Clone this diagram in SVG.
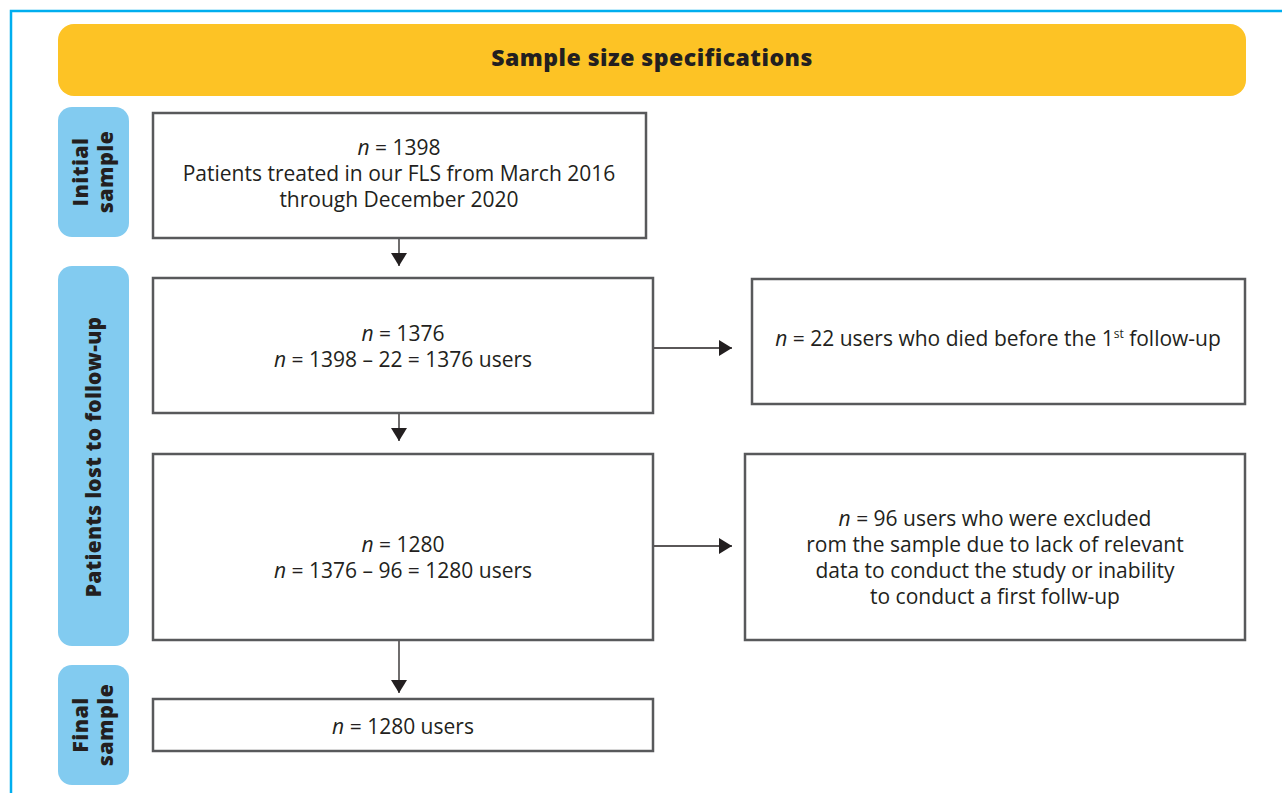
<svg xmlns="http://www.w3.org/2000/svg" width="1282" height="793" viewBox="0 0 1282 793">
<defs>
<style>
.frame{fill:none;stroke:#00AEEF;stroke-width:2.5}
.banner{fill:#FDC325}
.side{fill:#82CBF0}
.box{fill:#fff;stroke:#58595B;stroke-width:2.5}
.t{font-family:"Open Sans","Liberation Sans",sans-serif;font-size:21px;fill:#231F20;text-anchor:middle}
.b{font-family:"Open Sans","DejaVu Sans",sans-serif;font-weight:800;fill:#231F20;text-anchor:middle}
.conn{stroke:#231F20;stroke-width:1.3;fill:none}
</style>
<marker id="ah" viewBox="0 0 10 10" refX="10" refY="5" markerWidth="13" markerHeight="16" markerUnits="userSpaceOnUse" orient="auto" preserveAspectRatio="none">
<path d="M0,0 L10,5 L0,10 z" fill="#231F20"/>
</marker>
</defs>
<rect width="1282" height="793" fill="#fff"/>
<path class="frame" d="M11,793 V11 H1282"/>

<g id="header">
<rect class="banner" x="58" y="24" width="1188" height="72" rx="16"/>
<text class="b" x="652" y="66" font-size="23" letter-spacing="0.5">Sample size specifications</text>
</g>

<g id="stage-initial">
<rect class="side" x="58" y="107" width="71" height="130" rx="14"/>
<text class="b" font-size="21.5" letter-spacing="0.4" transform="translate(88,172) rotate(-90)">Initial</text>
<text class="b" font-size="21.5" letter-spacing="0.4" transform="translate(113,172) rotate(-90)">sample</text>
</g>
<g id="stage-lost">
<rect class="side" x="58" y="266" width="71" height="380" rx="14"/>
<text class="b" font-size="21" letter-spacing="0.3" transform="translate(101,457) rotate(-90)">Patients lost to follow-up</text>
</g>
<g id="stage-final">
<rect class="side" x="58" y="665" width="71" height="120" rx="14"/>
<text class="b" font-size="21.5" letter-spacing="0.4" transform="translate(88,725) rotate(-90)">Final</text>
<text class="b" font-size="21.5" letter-spacing="0.4" transform="translate(113,725) rotate(-90)">sample</text>
</g>

<g id="connectors">
<line class="conn" x1="399" y1="238" x2="399" y2="266" marker-end="url(#ah)"/>
<line class="conn" x1="399" y1="413" x2="399" y2="441" marker-end="url(#ah)"/>
<line class="conn" x1="399" y1="640" x2="399" y2="693" marker-end="url(#ah)"/>
<line class="conn" x1="653" y1="348" x2="732" y2="348" marker-end="url(#ah)"/>
<line class="conn" x1="653" y1="546" x2="732" y2="546" marker-end="url(#ah)"/>
</g>

<g id="n1398">
<rect class="box" x="153" y="113" width="493" height="125"/>
<text class="t" x="399" y="155"><tspan font-style="italic">n</tspan> = 1398</text>
<text class="t" x="399" y="181">Patients treated in our FLS from March 2016</text>
<text class="t" x="399" y="207">through December 2020</text>
</g>
<g id="n1376">
<rect class="box" x="153" y="278" width="500" height="135"/>
<text class="t" x="403" y="341"><tspan font-style="italic">n</tspan> = 1376</text>
<text class="t" x="403" y="367"><tspan font-style="italic">n</tspan> = 1398 – 22 = 1376 users</text>
</g>
<g id="died">
<rect class="box" x="752" y="279" width="493" height="125"/>
<text class="t" x="998" y="346"><tspan font-style="italic">n</tspan> = 22 users who died before the 1<tspan font-size="12" dy="-8">st</tspan><tspan dy="8"> follow-up</tspan></text>
</g>
<g id="n1280">
<rect class="box" x="153" y="454" width="500" height="186"/>
<text class="t" x="403" y="552"><tspan font-style="italic">n</tspan> = 1280</text>
<text class="t" x="403" y="578"><tspan font-style="italic">n</tspan> = 1376 – 96 = 1280 users</text>
</g>
<g id="excluded">
<rect class="box" x="745" y="454" width="500" height="186"/>
<text class="t" x="995" y="526"><tspan font-style="italic">n</tspan> = 96 users who were excluded</text>
<text class="t" x="995" y="552">rom the sample due to lack of relevant</text>
<text class="t" x="995" y="578">data to conduct the study or inability</text>
<text class="t" x="995" y="604">to conduct a first follw-up</text>
</g>
<g id="final">
<rect class="box" x="153" y="699" width="500" height="52"/>
<text class="t" x="403" y="734"><tspan font-style="italic">n</tspan> = 1280 users</text>
</g>
</svg>
